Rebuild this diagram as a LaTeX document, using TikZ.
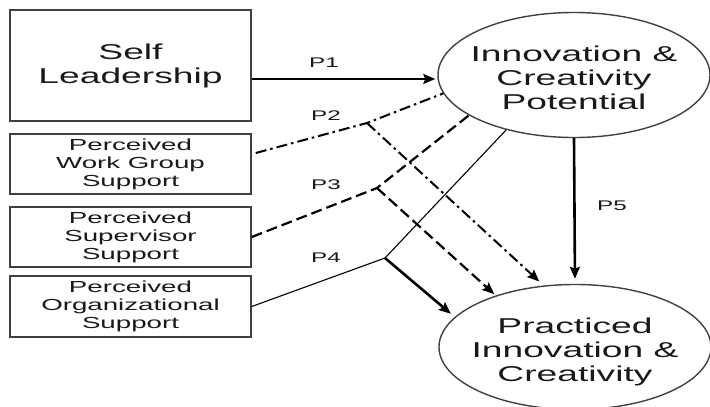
\documentclass[tikz,border=0pt]{standalone}
\usepackage{fontspec}
\setmainfont{Liberation Sans}[FakeStretch=1.73]
\usetikzlibrary{shapes.geometric,arrows.meta}

\tikzset{
  factor/.style={draw=black!75, line width=1.5pt, minimum width=241pt, align=center, inner sep=0pt, text=black!90},
  bigtext/.style={font=\fontsize{21.5}{24}\selectfont},
  smalltext/.style={font=\fontsize{16}{18}\selectfont},
  outcome/.style={ellipse, draw=black!75, line width=1.4pt, minimum width=272pt, minimum height=125pt, inner sep=0pt},
  outcometext/.style={bigtext, align=center, inner sep=0pt, text=black!90},
  pathlabel/.style={font=\fontsize{14}{16}\selectfont, text=black!90, inner sep=0pt},
  link/.style={-{Stealth[length=12pt,width=10pt,inset=2pt]}, shorten >=5pt},
  p2line/.style={line width=2pt, dash pattern=on 11pt off 4pt on 2.5pt off 4pt},
  p3line/.style={line width=2.2pt, dash pattern=on 11pt off 5pt},
  p4line/.style={line width=1.1pt},
}

\begin{document}
\begin{tikzpicture}[x=1pt,y=1pt,yscale=-1,xscale=1]
\useasboundingbox (0,0) rectangle (710,407);

%Boxes
\node[factor, bigtext, minimum height=111pt] (self) at (130.5,65.5) {Self\\Leadership};
\node[factor, smalltext, minimum height=60pt] (work) at (130.5,164) {Perceived\\Work Group\\Support};
\node[factor, smalltext, minimum height=60pt] (super) at (130.5,237) {Perceived\\Supervisor\\Support};
\node[factor, smalltext, minimum height=61pt] (org) at (130.5,306.5) {Perceived\\Organizational\\Support};

%Ellipses
\node[outcome] (pot) at (574,75) {};
\node[outcometext] (pottext) at (574,78) {Innovation \&\\Creativity\\Potential};
\node[outcome] (prac) at (575,347) {};
\node[outcometext] (practext) at (575,352) {Practiced\\Innovation \&\\Creativity};

%Kinks
\coordinate (k2) at (367,123);
\coordinate (k3) at (377,188);
\coordinate (k4) at (385,258);

%P1
\draw[line width=2pt, -{Stealth[length=12pt,width=10pt,inset=2pt]}] ([yshift=13.5pt]self.east) -- ([yshift=4pt,xshift=-2pt]pot.west);
%P2
\draw[p2line] ([shift={(4,-11)}]work.east) -- (k2) -- (pot.188);
\draw[p2line, link, shorten >=6pt] (k2) -- (prac.117);
%P3
\draw[p3line] (super.east) -- (k3) -- (pot.201);
\draw[p3line, link, shorten >=2pt] (k3) -- (prac.147);
%P4
\draw[p4line] (org.east) -- (k4) -- (pot.219);
\draw[line width=2.6pt, link] (k4) -- (prac.166);
%P5
\draw[line width=2.6pt, link] (pot.south) -- (prac.north);

% Text Node
\node[pathlabel] (lp1) at (324,63) {P1};
\node[pathlabel] (lp2) at (326,115.5) {P2};
\node[pathlabel] (lp3) at (326,185) {P3};
\node[pathlabel] (lp4) at (326,257.5) {P4};
\node[pathlabel] (lp5) at (612,206) {P5};
\end{tikzpicture}
\end{document}
